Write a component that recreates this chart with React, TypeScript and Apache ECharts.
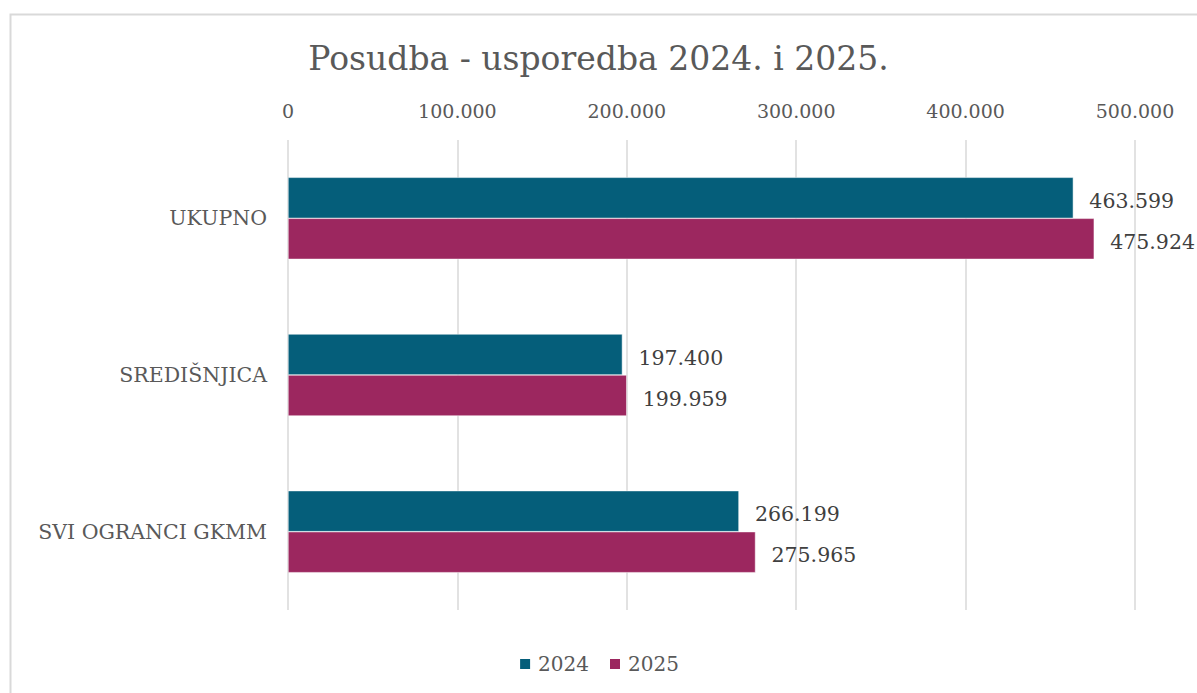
import React, { useEffect, useRef } from "react";
import * as echarts from "echarts";

const categories = ["SVI OGRANCI GKMM", "SREDIŠNJICA", "UKUPNO"];
const values2024 = [266199, 197400, 463599];
const values2025 = [275965, 199959, 475924];
const seriesNames = ["2024", "2025"];
const titleText = "Posudba - usporedba 2024. i 2025.";

const fmt = (v: number) => String(Math.round(v)).replace(/\B(?=(\d{3})+(?!\d))/g, ".");

const FONT = "'DejaVu Serif', serif";

export default function App() {
  const ref = useRef<HTMLDivElement>(null);
  useEffect(() => {
    if (!ref.current) return;
    const chart = echarts.init(ref.current, undefined, { renderer: "svg" });
    const labelOpt = {
      show: true,
      position: "right",
      distance: 16,
      offset: [0, 3],
      fontFamily: FONT,
      fontSize: 20.5,
      color: "#404040",
      formatter: (p: any) => fmt(p.value),
    };
    chart.setOption({
      animation: false,
      backgroundColor: "#ffffff",
      textStyle: { fontFamily: FONT },
      graphic: [
        {
          type: "rect",
          shape: { x: 10.5, y: 14.5, width: 1250, height: 750 },
          style: { fill: "none", stroke: "#d9d9d9", lineWidth: 2 },
          silent: true,
        },
      ],
      title: {
        text: titleText,
        left: "center",
        top: 37,
        textStyle: { fontFamily: FONT, fontSize: 33, fontWeight: "normal", color: "#595959" },
      },
      legend: {
        bottom: 14,
        left: "center",
        itemWidth: 12,
        itemHeight: 12,
        itemGap: 19,
        icon: "rect",
        textStyle: { fontFamily: FONT, fontSize: 20, color: "#595959", padding: [0, 0, 0, 2] },
        data: seriesNames,
      },
      grid: { left: 288, right: 62, top: 140, bottom: 83 },
      xAxis: {
        type: "value",
        position: "top",
        min: 0,
        max: 500000,
        interval: 100000,
        axisLine: { show: false },
        axisTick: { show: false },
        axisLabel: { fontFamily: FONT, fontSize: 19, color: "#595959", margin: 20, formatter: (v: number) => fmt(v) },
        splitLine: { show: true, lineStyle: { color: "#d9d9d9", width: 1.5 } },
      },
      yAxis: {
        type: "category",
        data: categories,
        axisLine: { show: false },
        axisTick: { show: false },
        axisLabel: { fontFamily: FONT, fontSize: 20.5, color: "#595959", margin: 21 },
      },
      series: [
        {
          name: seriesNames[0],
          type: "bar",
          data: values2024,
          barWidth: 41,
          barGap: "0%",
          itemStyle: { color: "#055e7a", borderColor: "#ffffff", borderWidth: 0.5 },
          label: labelOpt,
        },
        {
          name: seriesNames[1],
          type: "bar",
          data: values2025,
          barWidth: 41,
          barGap: "0%",
          itemStyle: { color: "#9c275f", borderColor: "#ffffff", borderWidth: 0.5 },
          label: labelOpt,
        },
      ],
    });
    return () => chart.dispose();
  }, []);
  return (
    <div
      ref={ref}
      style={{ position: "absolute", left: 0, top: 0, width: 1197, height: 693 }}
    />
  );
}
